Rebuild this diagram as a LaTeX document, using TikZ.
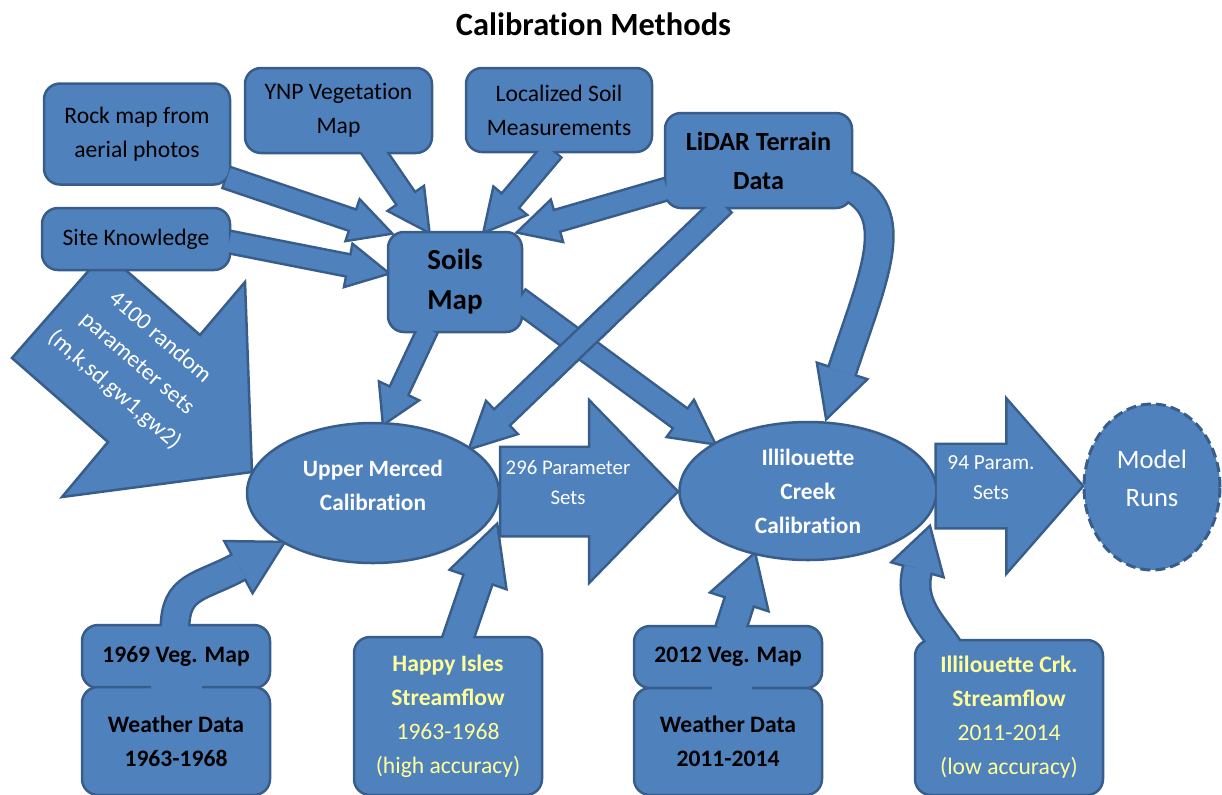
\documentclass[tikz,border=0pt]{standalone}
\usepackage{fontspec}
\setmainfont{Carlito}
\usetikzlibrary{calc,shapes.geometric}
\definecolor{blu}{HTML}{4F81BD}
\definecolor{bdr}{HTML}{385D8A}
\definecolor{lemon}{HTML}{FFFF99}
\pgfdeclarelayer{back}
\pgfsetlayers{back,main}

\newcommand{\ti}{t\kern0pt i}

\newcommand{\blockarr}[5]{%
  \coordinate (hb) at ($(#2)!#5!(#1)$);
  \def\arrpath{($(#1)!#3!90:(#2)$) -- ($(hb)!#3!90:(#2)$) -- ($(hb)!#4!90:(#2)$) -- (#2) -- ($(hb)!#4!-90:(#2)$) -- ($(hb)!#3!-90:(#2)$) -- ($(#1)!#3!-90:(#2)$) -- cycle}%
  \begin{pgfonlayer}{back}\draw[arrline] \arrpath;\end{pgfonlayer}
  \fill[arrfill] \arrpath;}

\newcommand{\bentarr}[7]{%
  \coordinate (hb) at ($(#4)!#7!(#3)$);
  \def\headpath{($(hb)!#6!90:(#4)$) -- (#4) -- ($(hb)!#6!-90:(#4)$) -- cycle}%
  \begin{pgfonlayer}{back}
    \draw[bdr, line width=#5+2.5pt] (#1) .. controls (#2) and (#3) .. (hb);
    \draw[arrline] \headpath;
  \end{pgfonlayer}
  \draw[blu, line width=#5] (#1) .. controls (#2) and (#3) .. (hb);
  \fill[arrfill] \headpath;}

\begin{document}
\begin{tikzpicture}[
    x=0.5pt, y=-0.5pt,
    box/.style={rectangle, draw=bdr, fill=blu, line width=1.25pt, rounded corners=8pt,
      align=center, inner sep=0pt, font=\fontsize{11.8}{17}\selectfont},
    boldbox/.style={box, font=\bfseries\fontsize{11.8}{17}\selectfont},
    calib/.style={ellipse, draw=bdr, fill=blu, line width=1.25pt, inner sep=0pt},
    calibtxt/.style={text=white, align=center, font=\bfseries\fontsize{11.7}{17}\selectfont},
    flowtxt/.style={text=white, align=center, font=\fontsize{10.4}{15}\selectfont},
    arrline/.style={draw=bdr, line width=2.5pt, line join=miter},
    arrfill/.style={fill=blu}
]
    \useasboundingbox (0,0) rectangle (1222,794);

    \node[font=\bfseries\fontsize{16.2}{20}\selectfont] (title) at (593.5,24) {Calibra\ti on Methods};

    \filldraw[fill=blu, draw=bdr, line width=1.25pt, line join=miter]
      (12,358) -- (105,252) -- (200,335) -- (245,282) -- (252,472) -- (62,497) -- (108,442) -- cycle;

    \node[box, minimum width=93pt, minimum height=50.5pt] (rock) at (137,134) {Rock map from\\aerial photos};
    \node[box, minimum width=93.5pt, minimum height=42.5pt] (ynp) at (338.5,110.5) {YNP Vegeta\ti on\\Map};
    \node[box, minimum width=93pt, minimum height=42pt] (soil) at (559,110) {Localized Soil\\Measurements};
    \node[box, minimum width=93.5pt, minimum height=47.5pt, font=\bfseries\fontsize{13.1}{19.5}\selectfont] (lidar) at (758.5,160.5) {LiDAR Terrain\\Data};
    \node[box, minimum width=94pt, minimum height=31pt] (site) at (136,239) {Site Knowledge};
    \node[box, minimum width=67pt, minimum height=50pt, font=\bfseries\fontsize{14.5}{20}\selectfont] (soils) at (455,282) {Soils\\Map};

    \node[calib, minimum width=126pt, minimum height=70pt] (umc) at (373,493) {};
    \node[calibtxt] (umctxt) at (373,485) {Upper Merced\\Calibra\ti on};
    \node[calib, calibtxt, minimum width=128.5pt, minimum height=69pt] (icc) at (808,491) {Illilouette\\Creek\\Calibra\ti on};
    \node[calib, dash pattern=on 5pt off 2.5pt, line width=1.5pt, minimum width=68pt, minimum height=83pt] (runs) at (1152,487) {};
    \node[text=white, align=center, font=\fontsize{13.3}{19}\selectfont] (runstxt) at (1152,478.5) {Model\\Runs};

    \node[boldbox, minimum width=94pt, minimum height=31.5pt] (veg69) at (176,656.5) {1969 Veg. Map};
    \node[boldbox, minimum width=94pt, minimum height=54pt] (wthr63) at (176,741) {Weather Data\\1963-1968};
    \node[box, text=lemon, minimum width=94pt, minimum height=79pt] (happy) at (448,716) {\textbf{Happy Isles}\\\textbf{Streamflow}\\1963-1968\\(high accuracy)};
    \node[boldbox, minimum width=94pt, minimum height=31pt] (veg12) at (728,657) {2012 Veg. Map};
    \node[boldbox, minimum width=94pt, minimum height=53.5pt] (wthr11) at (728,741.5) {Weather Data\\2011-2014};
    \node[box, text=lemon, minimum width=94pt, minimum height=77.5pt] (crk) at (1009,717.5) {\textbf{Illilouette Crk.}\\\textbf{Streamflow}\\2011-2014\\(low accuracy)};

    \fill[blu] (151,683) rectangle (202,692);
    \fill[blu] (712,684) rectangle (752,692);

    \coordinate (rk) at ([shift={(-4,-8)}]rock.south east);
    \coordinate (sm1) at ([shift={(3,2)}]soils.north west);
    \coordinate (sk) at ([shift={(-2,3)}]site.east);
    \coordinate (sm2) at ([shift={(0,-9)}]soils.west);
    \coordinate (yn) at ([shift={(31.5,-8)}]ynp.south);
    \coordinate (sm3) at ([shift={(-27,0)}]soils.north);
    \coordinate (ls) at ([shift={(-7,-2)}]soil.south);
    \coordinate (sm4) at ([shift={(30,0)}]soils.north);
    \coordinate (ld1) at ([shift={(3,28.5)}]lidar.west);
    \coordinate (sm5) at ([shift={(-4,1)}]soils.north east);
    \coordinate (sm6) at ([shift={(-27,-4)}]soils.south);
    \coordinate (um1) at ([shift={(11,1)}]umc.north);
    \coordinate (sm7) at ([shift={(-4,18)}]soils.east);
    \coordinate (ld2) at ([shift={(-35.5,-4)}]lidar.south);
    \coordinate (ld3) at ([shift={(-7,24.5)}]lidar.east);
    \coordinate (ic1) at ([shift={(19,-4)}]icc.north);
    \coordinate (v69) at ([shift={(-1,5)}]veg69.north);
    \coordinate (hi) at ([shift={(8,8)}]happy.north);
    \coordinate (um2) at ([shift={(8.5,2.5)}]umc.-15);
    \coordinate (v12) at ([shift={(2,6)}]veg12.north);
    \coordinate (ck) at ([shift={(-61,10)}]crk.north);
    \coordinate (ic2) at ([shift={(5,6)}]icc.-15);
    \coordinate (p296a) at ([shift={(1,-1.5)}]umc.east);
    \coordinate (p296b) at ([shift={(-2,0.5)}]icc.west);
    \coordinate (p94a) at ([shift={(-1,-5)}]icc.east);
    \coordinate (p94b) at ([shift={(-1,-1)}]runs.west);

    \blockarr{rk}{sm1}{5pt}{10pt}{19pt}
    \blockarr{sk}{sm2}{5pt}{10pt}{19pt}
    \blockarr{yn}{sm3}{5pt}{10pt}{19pt}
    \blockarr{ls}{sm4}{5pt}{10pt}{19pt}
    \blockarr{ld1}{sm5}{5pt}{10pt}{19pt}
    \blockarr{sm6}{um1}{4.5pt}{10pt}{17pt}
    \blockarr{sm7}{icc.153}{5.5pt}{10.5pt}{20pt}
    \blockarr{ld2}{umc.25}{5pt}{10.5pt}{21pt}
    \begin{scope}
      \clip (540,305) rectangle (615,385);
      \draw[arrline] \arrpath;
      \fill[arrfill] \arrpath;
    \end{scope}
    \blockarr{hi}{um2}{7pt}{14pt}{27.5pt}
    \blockarr{v12}{icc.230}{7pt}{14.25pt}{24pt}
    \blockarr{p296a}{p296b}{21.75pt}{44.25pt}{43pt}
    \blockarr{p94a}{p94b}{20.5pt}{42.25pt}{37pt}

    \bentarr{ld3}{905,212}{873.5,275.5}{ic1}{13pt}{12.25pt}{23.5pt}
    \bentarr{v69}{175,585}{200,588}{umc.209}{13pt}{13.75pt}{24.5pt}
    \bentarr{ck}{935.5,628.3}{907.3,605.3}{ic2}{13.5pt}{12.5pt}{21pt}

    \node[flowtxt] (n296) at (568,483) {296 Parameter\\Sets};
    \node[flowtxt, font=\fontsize{10.7}{15}\selectfont] (n94) at (991,478) {94 Param.\\Sets};
    \node[text=white, align=center, rotate=-41, font=\fontsize{11.7}{17.4}\selectfont] (n4100) at (137,364) {4100 random\\parameter sets\\(m,k,sd,gw1,gw2)};
\end{tikzpicture}
\end{document}
